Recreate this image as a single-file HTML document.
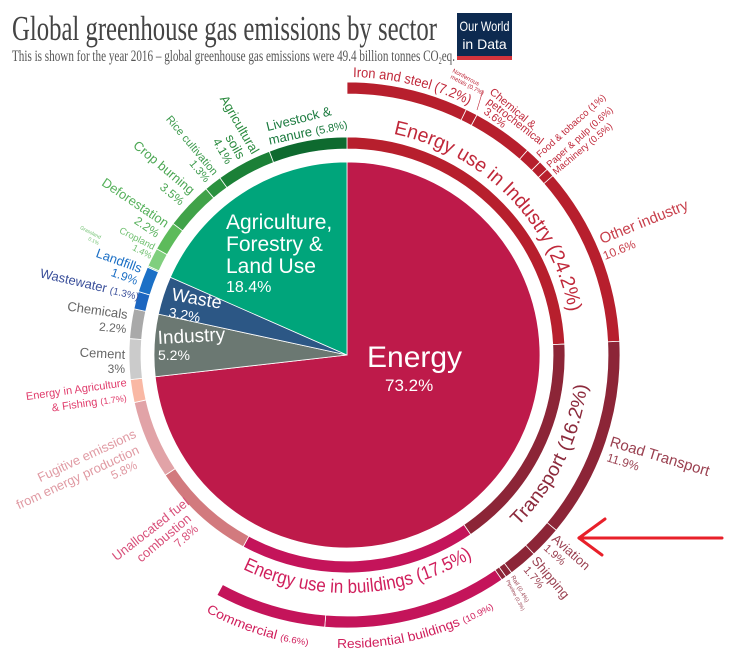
<!DOCTYPE html>
<html><head><meta charset="utf-8"><style>
html,body{margin:0;padding:0;background:#fff;}
svg{display:block;}
text{font-family:"Liberation Sans",sans-serif;}
.s{font-family:"Liberation Serif",serif;}
</style></head><body>
<svg id="c" width="733" height="654" viewBox="0 0 733 654" xmlns="http://www.w3.org/2000/svg">
<g id="shapes"></g>
<defs>
<path id="pInd" d="M366.7,129.9 A226,226 0 0 1 569.6,394.2"/>
<path id="pTr" d="M502.6,540.4 A242,242 0 0 0 588.9,346.6"/>
<path id="pBl" d="M220.9,556.8 A238,238 0 0 0 500.0,537.3"/>
<path id="pIron" d="M347,77 A278,278 0 0 1 486,114"/>
<path id="pBot" d="M178.9,595.0 A293,293 0 0 0 515.1,595.0"/>
</defs>

<text class="s" x="12" y="40" font-size="35" fill="#444" textLength="425" lengthAdjust="spacingAndGlyphs">Global greenhouse gas emissions by sector</text>
<text class="s" x="12" y="61" font-size="16" fill="#555" textLength="443" lengthAdjust="spacingAndGlyphs">This is shown for the year 2016 – global greenhouse gas emissions were 49.4 billion tonnes CO<tspan font-size="9" dy="3">2</tspan><tspan dy="-3">eq.</tspan></text>
<rect x="457" y="13" width="55" height="45" fill="#0d2a50"/>
<rect x="457" y="56" width="55" height="4" fill="#d4343c"/>
<text x="484.5" y="31" font-size="14" fill="#fff" text-anchor="middle" textLength="50" lengthAdjust="spacingAndGlyphs">Our World</text>
<text x="484.5" y="49" font-size="14" fill="#fff" text-anchor="middle">in Data</text>

<text x="367" y="367" font-size="30" fill="#fff">Energy</text>
<text x="385" y="391" font-size="17" fill="#fff">73.2%</text>
<text x="226" y="229" font-size="21" fill="#fff">Agriculture,</text>
<text x="226" y="251" font-size="21" fill="#fff">Forestry &amp;</text>
<text x="226" y="273" font-size="21" fill="#fff">Land Use</text>
<text x="226" y="292" font-size="16" fill="#fff">18.4%</text>
<text x="171" y="300" font-size="18" fill="#fff" transform="rotate(10 171 300)">Waste</text>
<text x="168" y="317" font-size="14" fill="#fff" transform="rotate(10 168 317)">3.2%</text>
<text x="158" y="344" font-size="19" fill="#fff" transform="rotate(-3 158 344)">Industry</text>
<text x="158" y="360" font-size="14" fill="#fff">5.2%</text>

<text font-size="20" fill="#c0283a"><textPath href="#pInd" startOffset="27" textLength="265" lengthAdjust="spacingAndGlyphs">Energy use in Industry (24.2%)</textPath></text>
<text font-size="19" fill="#8c2a3c"><textPath href="#pTr" startOffset="21" textLength="160" lengthAdjust="spacingAndGlyphs">Transport (16.2%)</textPath></text>
<text font-size="19" fill="#d01f5c"><textPath href="#pBl" startOffset="25" textLength="240" lengthAdjust="spacingAndGlyphs">Energy use in buildings (17.5%)</textPath></text>
<text font-size="14" fill="#c0283a"><textPath href="#pIron" startOffset="6" textLength="120" lengthAdjust="spacingAndGlyphs">Iron and steel (7.2%)</textPath></text>
<text font-size="13" fill="#d01f5c"><textPath href="#pBot" startOffset="32" textLength="108" lengthAdjust="spacingAndGlyphs">Commercial <tspan font-size="9">(6.6%)</tspan></textPath></text>
<text font-size="13" fill="#d01f5c"><textPath href="#pBot" startOffset="169" textLength="164" lengthAdjust="spacingAndGlyphs">Residential buildings <tspan font-size="9">(10.9%)</tspan></textPath></text>

<text x="452" y="72" font-size="6" fill="#c0283a" transform="rotate(28 452 72)">Nonferrous</text>
<text x="450" y="78" font-size="6" fill="#c0283a" transform="rotate(28 450 78)">metals (0.7%)</text>
<line x1="483" y1="90" x2="477" y2="110" stroke="#c0283a" stroke-width="0.6"/>
<text x="489" y="93" font-size="11" fill="#c0283a" transform="rotate(40 489 93)">Chemical &amp;</text>
<text x="486" y="103" font-size="11" fill="#c0283a" transform="rotate(38 486 103)">petrochemical</text>
<text x="483" y="113" font-size="11" fill="#c0283a" transform="rotate(38 483 113)">3.6%</text>
<text x="540" y="158" font-size="9.5" fill="#c0283a" transform="rotate(-42 540 158)">Food &amp; tobacco (1%)</text>
<text x="550" y="168" font-size="9.5" fill="#c0283a" transform="rotate(-42 550 168)">Paper &amp; pulp (0.6%)</text>
<text x="556" y="175" font-size="9.5" fill="#c0283a" transform="rotate(-40 556 175)">Machinery (0.5%)</text>
<text x="602" y="244" font-size="15" fill="#c8404c" transform="rotate(-22 602 244)">Other industry</text>
<text x="605" y="260" font-size="12" fill="#c8404c" transform="rotate(-22 605 260)">10.6%</text>

<text x="609" y="446" font-size="15" fill="#9a4050" transform="rotate(17 609 446)">Road Transport</text>
<text x="606" y="461" font-size="12" fill="#9a4050" transform="rotate(17 606 461)">11.9%</text>
<text x="551" y="540" font-size="13" fill="#9a4050" transform="rotate(42 551 540)">Aviation</text>
<text x="543" y="549" font-size="11" fill="#9a4050" transform="rotate(42 543 549)">1.9%</text>
<text x="531" y="561" font-size="13" fill="#9a4050" transform="rotate(50 531 561)">Shipping</text>
<text x="523" y="570" font-size="11" fill="#9a4050" transform="rotate(50 523 570)">1.7%</text>
<text x="511" y="577" font-size="6" fill="#9a4050" transform="rotate(60 511 577)">Rail (0.4%)</text>
<text x="506" y="581" font-size="5" fill="#9a4050" transform="rotate(62 506 581)">Pipeline (0.3%)</text>

<g stroke="#e8202a" stroke-width="3" fill="none" stroke-linecap="round">
<line x1="579" y1="538" x2="722" y2="538"/>
<line x1="579" y1="538" x2="605" y2="519"/>
<line x1="579" y1="538" x2="602" y2="555"/>
</g>

<g text-anchor="end">
<text x="332" y="115" font-size="13" fill="#1a7a3e" transform="rotate(-14 332 115)">Livestock &amp;</text>
<text x="348" y="128" font-size="13" fill="#1a7a3e" transform="rotate(-12 348 128)">manure <tspan font-size="11">(5.8%)</tspan></text>
<text x="252" y="155" font-size="13" fill="#2a8a3e" transform="rotate(60 252 155)">Agricultural</text>
<text x="238" y="160" font-size="13" fill="#2a8a3e" transform="rotate(60 238 160)">soils</text>
<text x="226" y="165" font-size="12" fill="#2a8a3e" transform="rotate(60 226 165)">4.1%</text>
<text x="213" y="176" font-size="11" fill="#3c9a4c" transform="rotate(50 213 176)">Rice cultivation</text>
<text x="205" y="183" font-size="11" fill="#3c9a4c" transform="rotate(50 205 183)">1.3%</text>
<text x="190" y="195" font-size="13" fill="#4aa652" transform="rotate(40 190 195)">Crop burning</text>
<text x="180" y="206" font-size="12" fill="#4aa652" transform="rotate(40 180 206)">3.5%</text>
<text x="165" y="228" font-size="13" fill="#55b05a" transform="rotate(34 165 228)">Deforestation</text>
<text x="156" y="238" font-size="12" fill="#55b05a" transform="rotate(34 156 238)">2.2%</text>
<text x="153" y="250" font-size="9.5" fill="#70c070" transform="rotate(27 153 250)">Cropland</text>
<text x="150" y="259" font-size="9" fill="#70c070" transform="rotate(27 150 259)">1.4%</text>
<text x="100" y="239" font-size="5" fill="#70c070" transform="rotate(27 100 239)">Grassland</text>
<text x="98" y="245" font-size="5" fill="#70c070" transform="rotate(27 98 245)">0.1%</text>
<text x="140" y="273" font-size="13" fill="#1b6fc5" transform="rotate(20 140 273)">Landfills</text>
<text x="136" y="285" font-size="12" fill="#1b6fc5" transform="rotate(20 136 285)">1.9%</text>
<text x="138" y="300" font-size="13" fill="#3a4f9a" transform="rotate(13 138 300)">Wastewater <tspan font-size="10">(1.3%)</tspan></text>
<text x="127" y="319" font-size="13" fill="#666" transform="rotate(8 127 319)">Chemicals</text>
<text x="126" y="333" font-size="12" fill="#666" transform="rotate(5 126 333)">2.2%</text>
<text x="125" y="359" font-size="13" fill="#666" transform="rotate(3 125 359)">Cement</text>
<text x="125" y="373" font-size="12" fill="#666">3%</text>
<text x="127" y="386" font-size="11" fill="#e03b6b" transform="rotate(-8 127 386)">Energy in Agriculture</text>
<text x="127" y="401" font-size="11" fill="#e03b6b" transform="rotate(-8 127 401)">&amp; Fishing <tspan font-size="9">(1.7%)</tspan></text>
<text x="137" y="437" font-size="13" fill="#e09aa3" transform="rotate(-25 137 437)">Fugitive emissions</text>
<text x="140" y="453" font-size="13" fill="#e09aa3" transform="rotate(-25 140 453)">from energy production</text>
<text x="138" y="468" font-size="12" fill="#e09aa3" transform="rotate(-25 138 468)">5.8%</text>
<text x="190" y="504" font-size="13" fill="#d8507a" transform="rotate(-38 190 504)">Unallocated fuel</text>
<text x="192" y="520" font-size="13" fill="#d8507a" transform="rotate(-40 192 520)">combustion</text>
<text x="199" y="530" font-size="12" fill="#d8507a" transform="rotate(-42 199 530)">7.8%</text>
</g>
</svg>
<script>
(function(){
var cx=347,cy=355,NS="http://www.w3.org/2000/svg";
function P(a,r){a=a*Math.PI/180;return [cx+r*Math.sin(a),cy-r*Math.cos(a)];}
function f(p){return p[0].toFixed(2)+","+p[1].toFixed(2);}
var g=document.getElementById("shapes");
function add(d,c){var e=document.createElementNS(NS,"path");e.setAttribute("d",d);e.setAttribute("fill",c);e.setAttribute("stroke","#fff");e.setAttribute("stroke-width","0.8");g.appendChild(e);}
function wedge(p0,p1,r,c){var a0=p0*3.6,a1=p1*3.6,l=(a1-a0)>180?1:0;
add("M"+cx+","+cy+" L"+f(P(a0,r))+" A"+r+","+r+" 0 "+l+" 1 "+f(P(a1,r))+" Z",c);}
function ring(p0,p1,r0,r1,c){var a0=p0*3.6,a1=p1*3.6,l=(a1-a0)>180?1:0;
add("M"+f(P(a0,r1))+" A"+r1+","+r1+" 0 "+l+" 1 "+f(P(a1,r1))+" L"+f(P(a1,r0))+" A"+r0+","+r0+" 0 "+l+" 0 "+f(P(a0,r0))+" Z",c);}
var R=193;
wedge(0,73.2,R,"#be1a4a");wedge(73.2,78.4,R,"#6b7872");wedge(78.4,81.6,R,"#2c5785");wedge(81.6,100,R,"#00a57b");
var m=[[0,24.2,"#b71f2d"],[24.2,40.4,"#8c2537"],[40.4,57.9,"#c4145a"],[57.9,65.7,"#d27a7e"],[65.7,71.5,"#e1a3a7"],[71.5,73.2,"#f9b8a4"],[73.2,76.2,"#cbcbcb"],[76.2,78.4,"#a9a9a9"],[78.4,79.7,"#1c66c0"],[79.7,81.6,"#1b70c6"],[81.6,81.7,"#80cf7e"],[81.7,83.1,"#80cf7e"],[83.1,85.3,"#5dbb5b"],[85.3,88.8,"#40a249"],[88.8,90.1,"#2a913f"],[90.1,94.2,"#1b8037"],[94.2,100,"#0e6a2f"]];
m.forEach(function(s){ring(s[0],s[1],206,218,s[2]);});
var o=[[0,7.2,"#b71f2d"],[7.2,7.9,"#b71f2d"],[7.9,11.5,"#b71f2d"],[11.5,12.5,"#b71f2d"],[12.5,13.1,"#b71f2d"],[13.1,13.6,"#b71f2d"],[13.6,24.2,"#b71f2d"],[24.2,36.1,"#8c2537"],[36.1,38,"#8c2537"],[38,39.7,"#8c2537"],[39.7,40.1,"#8c2537"],[40.1,40.4,"#8c2537"],[40.4,51.3,"#c4145a"],[51.3,57.9,"#c4145a"]];
o.forEach(function(s){ring(s[0],s[1],261,273,s[2]);});
})();
</script>
</body></html>
